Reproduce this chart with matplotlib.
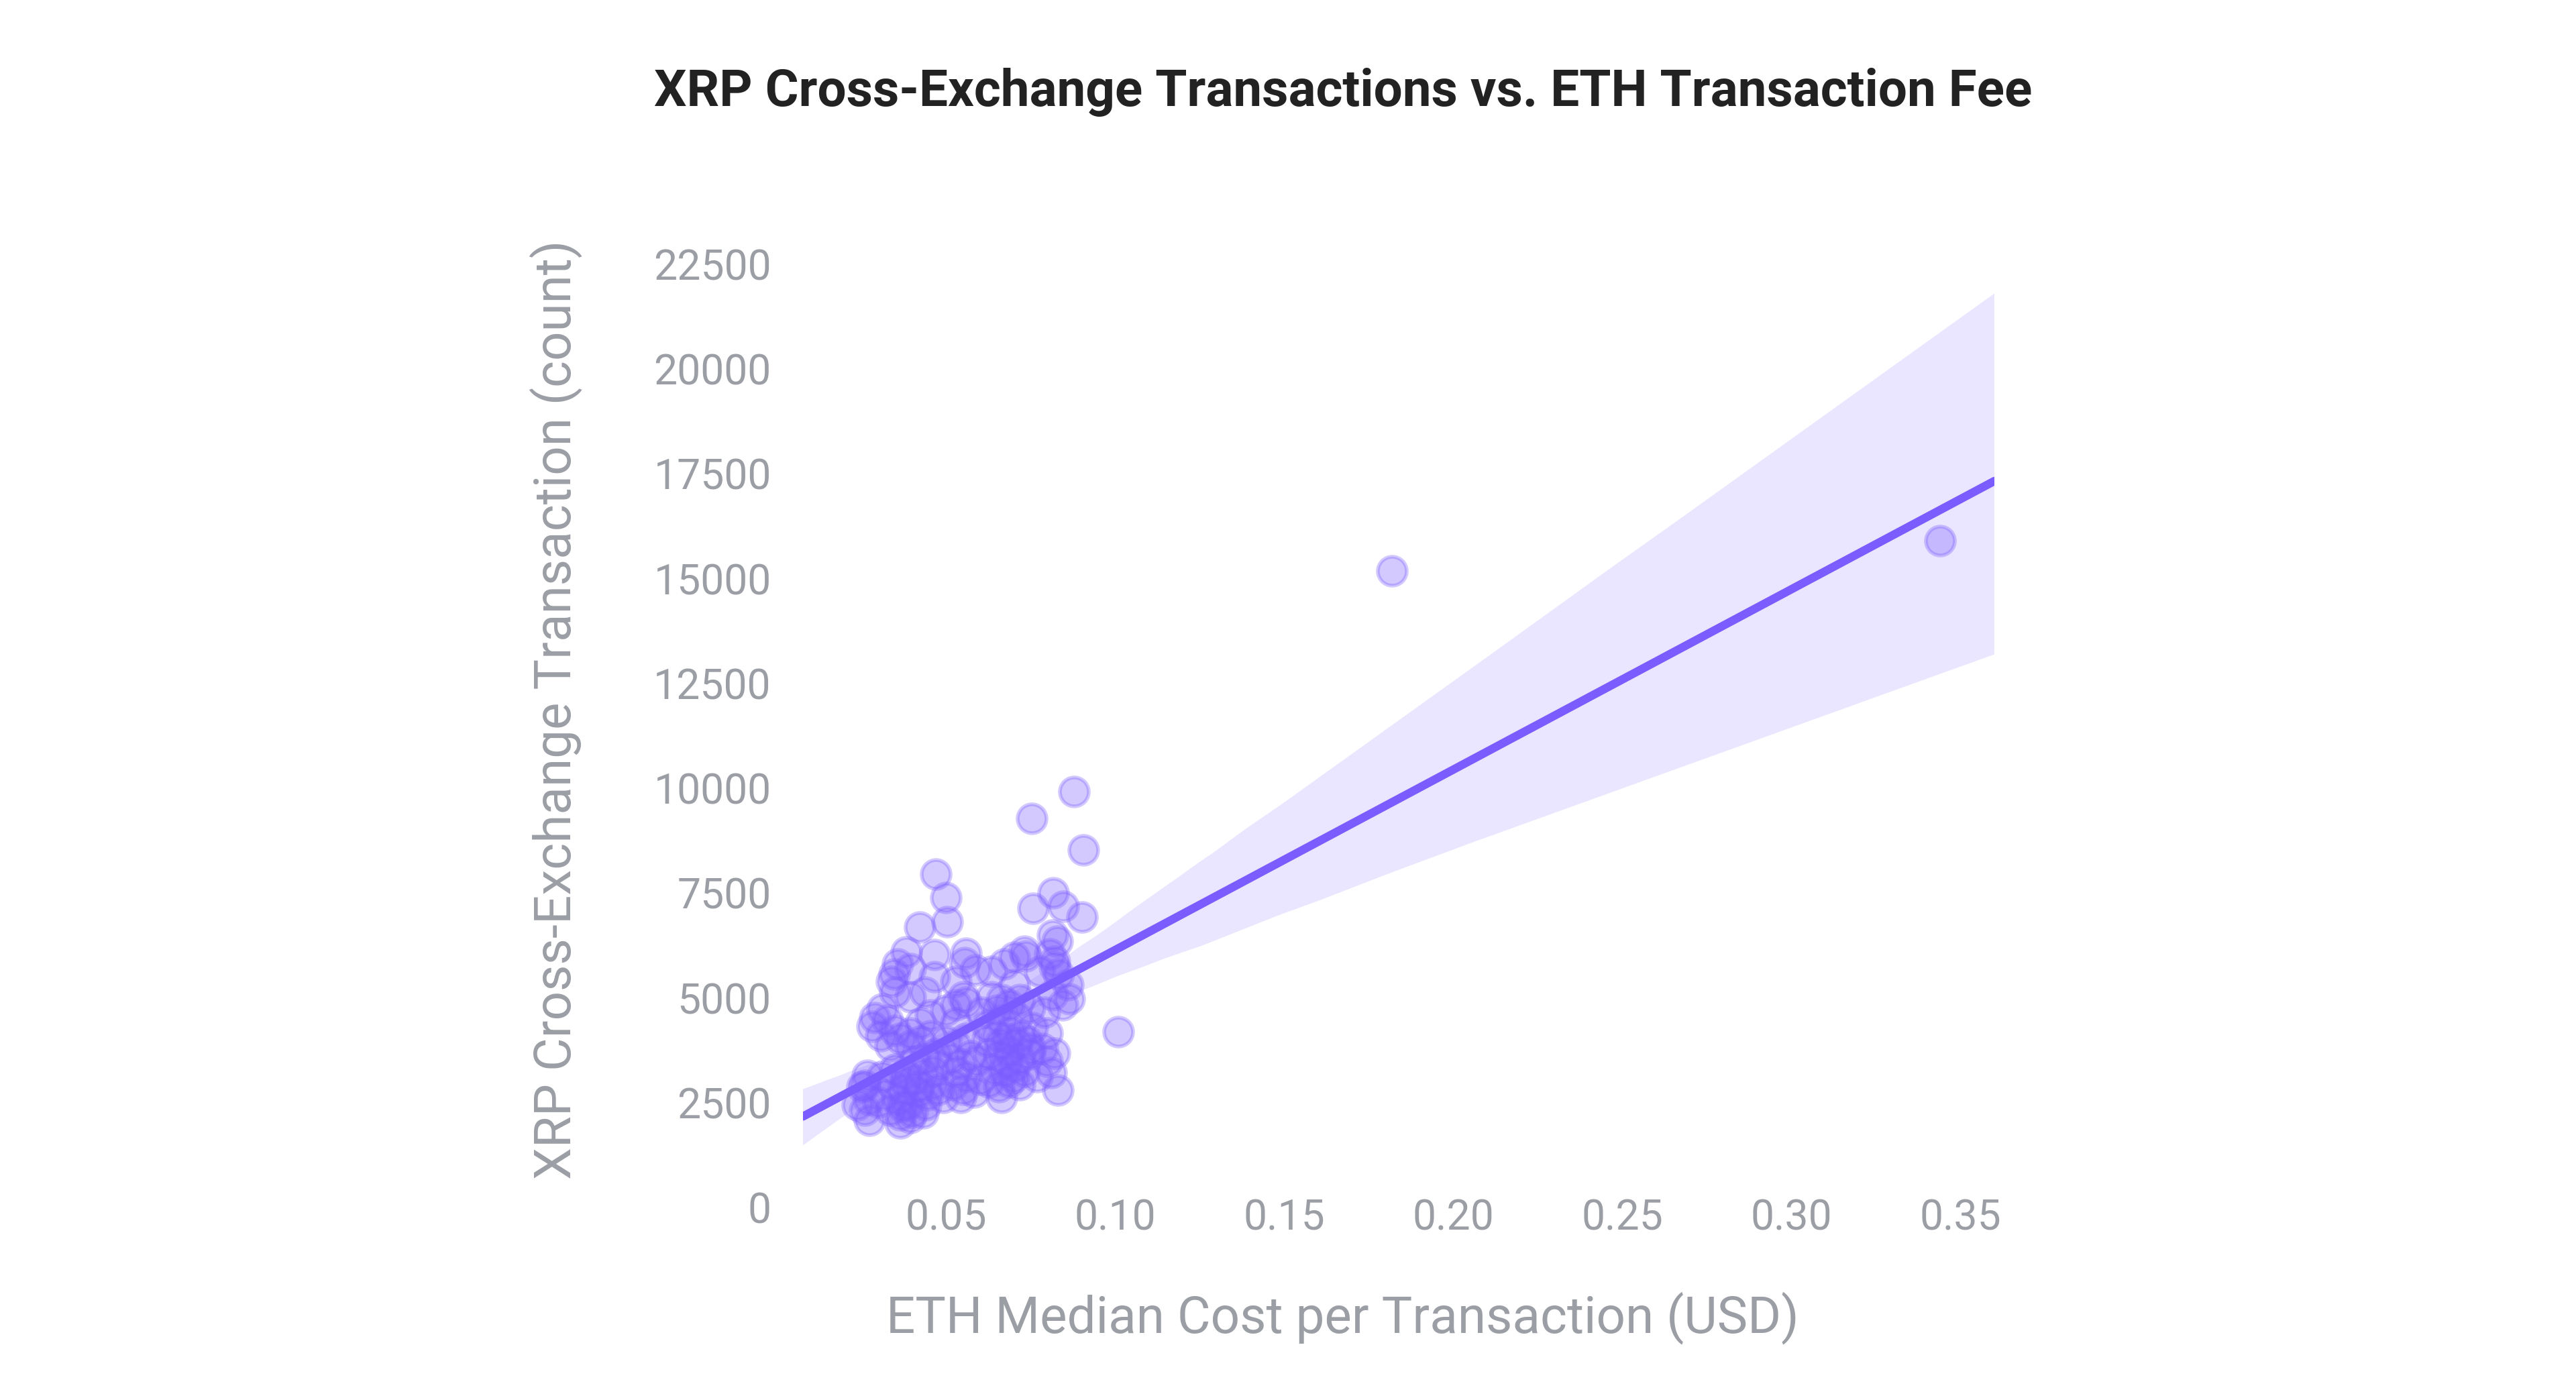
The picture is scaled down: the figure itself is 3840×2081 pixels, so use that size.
import matplotlib
matplotlib.use("Agg")
import matplotlib.pyplot as plt
import numpy as np
import seaborn as sns

# ETH median fee (USD) vs XRP cross-exchange transaction count
eth_fee = [
    0.1820, 0.3441, 0.1010, 0.0879, 0.0753, 0.0907, 0.0470, 0.0500, 0.0503, 0.0423,
    0.0817, 0.0758, 0.0846, 0.0902, 0.0815, 0.0830, 0.0822, 0.0811, 0.0832, 0.0383,
    0.0466, 0.0560, 0.0357, 0.0346, 0.0394, 0.0556, 0.0586, 0.0635, 0.0672, 0.0702,
    0.0732, 0.0736, 0.0807, 0.0822, 0.0466, 0.0530, 0.0338, 0.0439, 0.0394, 0.0349,
    0.0552, 0.0834, 0.0860, 0.0864, 0.0815, 0.0845, 0.0702, 0.0665, 0.0635, 0.0822,
    0.0777, 0.0312, 0.0289, 0.0282, 0.0327, 0.0349, 0.0308, 0.0424, 0.0454, 0.0499,
    0.0530, 0.0560, 0.0605, 0.0650, 0.0687, 0.0717, 0.0747, 0.0792, 0.0665, 0.0710,
    0.0620, 0.0530, 0.0394, 0.0454, 0.0755, 0.0800, 0.0267, 0.0252, 0.0237, 0.0259,
    0.0274, 0.0271, 0.0334, 0.0364, 0.0394, 0.0424, 0.0349, 0.0379, 0.0409, 0.0439,
    0.0470, 0.0342, 0.0372, 0.0402, 0.0432, 0.0462, 0.0357, 0.0387, 0.0417, 0.0447,
    0.0477, 0.0364, 0.0394, 0.0432, 0.0364, 0.0334, 0.0319, 0.0312, 0.0500, 0.0530,
    0.0560, 0.0514, 0.0544, 0.0574, 0.0530, 0.0560, 0.0522, 0.0552, 0.0582, 0.0544,
    0.0492, 0.0620, 0.0650, 0.0680, 0.0710, 0.0740, 0.0627, 0.0657, 0.0687, 0.0717,
    0.0747, 0.0642, 0.0672, 0.0702, 0.0732, 0.0627, 0.0657, 0.0687, 0.0717, 0.0665,
    0.0785, 0.0800, 0.0770, 0.0370, 0.0400, 0.0420, 0.0380, 0.0440, 0.0680, 0.0700,
    0.0660, 0.0690, 0.0600, 0.0590, 0.0480, 0.0460, 0.0720, 0.0750, 0.0260, 0.0300,
]
xrp_tx = [
    15180, 15910, 4190, 9920, 9280, 8530, 7960, 7390, 6810, 6690,
    7510, 7130, 7190, 6930, 6500, 6360, 3680, 3220, 2800, 6090,
    6030, 6060, 5815, 5570, 5690, 5845, 5660, 5630, 5815, 5965,
    6120, 5995, 6055, 5750, 5510, 5390, 5390, 5140, 5020, 5140,
    5020, 5570, 5320, 4985, 5075, 4830, 5320, 4955, 5020, 5880,
    5630, 4740, 4530, 4315, 4470, 4220, 4100, 4405, 4590, 4710,
    4830, 4895, 4650, 4710, 4835, 4955, 4770, 4650, 4470, 4525,
    4345, 4405, 4160, 4100, 4285, 4160, 3155, 2875, 2450, 2325,
    2080, 2570, 3855, 4040, 3855, 3975, 3305, 3185, 3485, 3550,
    3670, 2935, 2815, 3055, 3180, 3245, 2570, 2450, 2750, 2690,
    2815, 2205, 2140, 2260, 2015, 2325, 2695, 3120, 3975, 3855,
    4040, 3550, 3425, 3610, 3245, 3115, 2935, 2815, 2750, 2630,
    2630, 3975, 4100, 4040, 3915, 3975, 3670, 3610, 3730, 3550,
    3670, 3300, 3245, 3365, 3245, 2995, 2875, 2995, 2935, 2630,
    3790, 3485, 3115, 2420, 2270, 2900, 2970, 2450, 3450, 3100,
    3900, 4200, 3050, 3500, 3400, 2950, 4100, 3800, 2920, 2520,
]

x_ticks = [0.05, 0.10, 0.15, 0.20, 0.25, 0.30, 0.35]
y_ticks = list(range(0, 22501, 2500))

purple = "#7B5CFF"
grey = "#9b9ea4"

plt.rcParams["font.family"] = ["Roboto", "DejaVu Sans"]

fig = plt.figure(figsize=(19.2, 10.405), dpi=200)
ax = fig.add_axes([0.3117, 0.135, 0.4625, 0.6757])

# x limits first, so the fitted line spans the whole axis like the original
xmin, xmax = min(eth_fee), max(eth_fee)
pad = 0.05 * (xmax - xmin)
ax.set_xlim(xmin - pad, xmax + pad)

sns.regplot(x=np.array(eth_fee), y=np.array(xrp_tx), ax=ax, color=purple,
            truncate=False, seed=1, ci=95,
            scatter_kws={"s": 240, "alpha": 0.33, "edgecolor": purple, "linewidths": 2},
            line_kws={"linewidth": 4.5, "solid_capstyle": "round"})

ax.set_xlim(xmin - pad, xmax + pad)
ax.set_ylim(0, 22500)
ax.set_xticks(x_ticks)
ax.set_xticklabels([f"{t:.2f}" for t in x_ticks])
ax.set_yticks(y_ticks)
ax.set_yticklabels([str(t) for t in y_ticks])
ax.tick_params(axis="both", length=0, labelsize=22.5, labelcolor=grey)
ax.tick_params(axis="y", pad=17)
ax.tick_params(axis="x", pad=-5)
for s in ax.spines.values():
    s.set_visible(False)
ax.grid(False)

ax.set_xlabel("ETH Median Cost per Transaction (USD)", fontsize=27.5, color=grey)
ax.xaxis.set_label_coords(0.453, -0.089)
ax.set_ylabel("XRP Cross-Exchange Transaction (count)", fontsize=27.5, color=grey)
ax.yaxis.set_label_coords(-0.185, 0.528)

fig.text(0.5214, 0.934, "XRP Cross-Exchange Transactions vs. ETH Transaction Fee",
         fontsize=27.5, fontweight="bold", color="#222222", ha="center", va="center")

fig.savefig("out.png", dpi=200, facecolor="white")
